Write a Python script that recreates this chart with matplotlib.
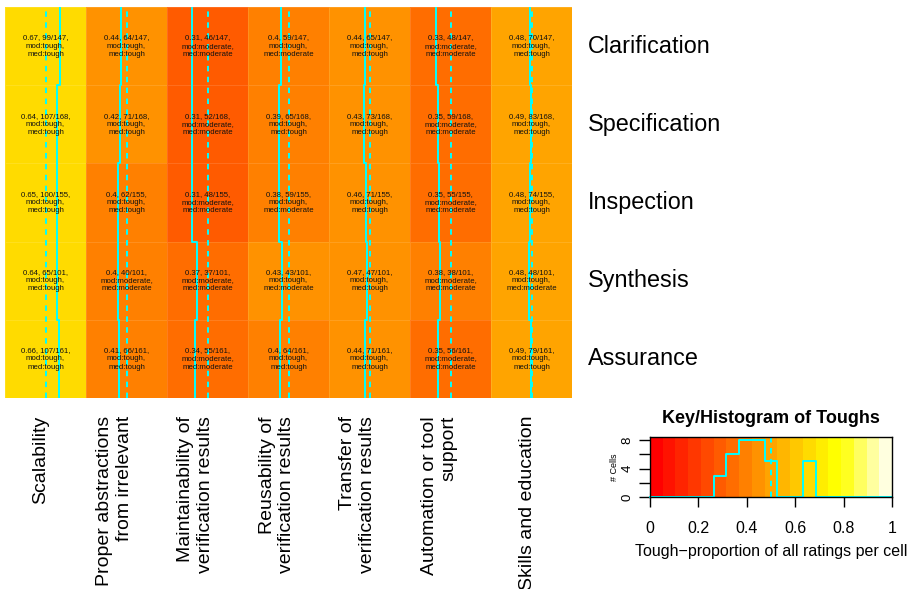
import colorsys
import numpy as np
import matplotlib
matplotlib.use("Agg")
import matplotlib.pyplot as plt
import matplotlib.transforms as mtransforms
from matplotlib.colors import ListedColormap, BoundaryNorm

plt.rcParams['font.family'] = ['Liberation Sans', 'DejaVu Sans']

# rows top to bottom, columns left to right
rows = ["Clarification", "Specification", "Inspection", "Synthesis", "Assurance"]
cols = ["Scalability", "Proper abstractions\nfrom irrelevant",
        "Maintainability of\nverification results", "Reusability of\nverification results",
        "Transfer of\nverification results", "Automation or tool\nsupport",
        "Skills and education"]
row_totals = [147, 168, 155, 101, 161]
tough_counts = [
    [99, 64, 46, 59, 65, 48, 70],
    [107, 71, 52, 65, 73, 59, 83],
    [100, 62, 48, 59, 71, 55, 74],
    [65, 40, 37, 43, 47, 38, 48],
    [107, 66, 55, 64, 71, 56, 79],
]
modes = [
    ["tough", "tough", "moderate", "tough", "tough", "moderate", "tough"],
    ["tough", "tough", "moderate", "tough", "tough", "moderate", "tough"],
    ["tough", "tough", "moderate", "tough", "tough", "moderate", "tough"],
    ["tough", "moderate", "moderate", "tough", "tough", "moderate", "tough"],
    ["tough", "tough", "moderate", "tough", "tough", "moderate", "tough"],
]
medians = [
    ["tough", "tough", "moderate", "moderate", "tough", "moderate", "tough"],
    ["tough", "tough", "moderate", "tough", "tough", "moderate", "tough"],
    ["tough", "tough", "moderate", "moderate", "tough", "moderate", "tough"],
    ["tough", "moderate", "moderate", "moderate", "tough", "moderate", "moderate"],
    ["tough", "tough", "moderate", "tough", "tough", "moderate", "tough"],
]
n_breaks = 20
vline = 0.5


def heat_colors(n):
    # same as R's heat.colors(n)
    j = n // 4
    i = n - j
    out = [colorsys.hsv_to_rgb(h, 1, 1) for h in np.linspace(0, 1 / 6, i)]
    if j > 0:
        for s in np.linspace(1 - 1 / (2 * j), 1 / (2 * j), j):
            out.append(colorsys.hsv_to_rgb(1 / 6, s, 1))
    return out


breaks = np.linspace(0, 1, n_breaks)
cmap = ListedColormap(heat_colors(n_breaks - 1))
norm = BoundaryNorm(breaks, cmap.N)

counts = np.array(tough_counts, dtype=float)
props = counts / np.array(row_totals, dtype=float)[:, None]
nr, nc = props.shape

W, H = 914, 589
fig = plt.figure(figsize=(W / 100, H / 100), dpi=100)

# heatmap
ax = fig.add_axes([5 / W, 1 - 398 / H, 567 / W, 391 / H])
xe = np.arange(nc + 1) + 0.5
ye = np.arange(nr + 1) + 0.5
ax.pcolormesh(xe, ye, props, cmap=cmap, norm=norm,
              edgecolors=(1, 1, 1, 0.12), linewidth=0.6)
ax.set_xlim(0.5, nc + 0.5)
ax.set_ylim(nr + 0.5, 0.5)
ax.axis('off')

for j in range(nc):
    ax.axvline(j + 1, color='cyan', lw=1.4, dashes=(2.8, 2.8))
    xv = j + 0.5 + props[:, j]
    xv = np.concatenate([[xv[0]], xv])
    ax.plot(xv, ye, color='cyan', lw=1.4, drawstyle='steps-post')
    for i in range(nr):
        lab = "%g, %d/%d,\nmod:%s,\nmed:%s" % (round(props[i, j], 2), tough_counts[i][j],
                                               row_totals[i], modes[i][j], medians[i][j])
        ax.text(j + 1, i + 1, lab, ha='center', va='center', fontsize=5.6,
                linespacing=1.25, color='#111111')

for i, r in enumerate(rows):
    ax.text(588 / W, i + 1, r, transform=mtransforms.blended_transform_factory(fig.transFigure, ax.transData),
            ha='left', va='center', fontsize=16.8)

tr = mtransforms.blended_transform_factory(ax.transData, fig.transFigure)
for j, c in enumerate(cols):
    ax.text(j + 1, 1 - 416 / H, c, transform=tr, rotation=90, rotation_mode='anchor',
            ha='right', va='baseline', multialignment='right', fontsize=14, clip_on=False)

# key / histogram
kax = fig.add_axes([650 / W, 1 - 497 / H, 242 / W, 60 / H])
mids = (breaks[:-1] + breaks[1:]) / 2
kax.pcolormesh(breaks, [0, 1], mids[None, :], cmap=cmap, norm=norm)
h, _ = np.histogram(props.ravel(), bins=breaks)
hy = np.concatenate([h, [h[-1]]])
kax.plot(breaks, hy / hy.max() * 0.95, color='cyan', lw=1.4, drawstyle='steps-post', clip_on=False)
kax.axvline(vline, color='cyan', lw=1.4, dashes=(2.8, 2.8))
kax.set_xlim(0, 1)
kax.set_ylim(0, 1)
kax.set_xticks(np.linspace(0, 1, 6))
kax.set_xticklabels(["0", "0.2", "0.4", "0.6", "0.8", "1"], fontsize=11.5)
yt = np.arange(0, hy.max() + 1, 2)
kax.set_yticks(yt / hy.max() * 0.95)
kax.set_yticklabels([("%d" % v if v % 4 == 0 else "") for v in yt], fontsize=9.5,
                    rotation=90, va='center')
kax.tick_params(axis='x', length=7, width=1, pad=10)
kax.tick_params(axis='y', length=8, width=1, pad=4)
for s in kax.spines.values():
    s.set_linewidth(1)
kax.set_xlabel("Tough\u2212proportion of all ratings per cell", fontsize=11.5, labelpad=6)
kax.set_ylabel("# Cells", fontsize=6.5, labelpad=2)
kax.set_title("Key/Histogram of Toughs", fontsize=13, fontweight='bold', pad=10)

fig.savefig("out.png", dpi=100)
